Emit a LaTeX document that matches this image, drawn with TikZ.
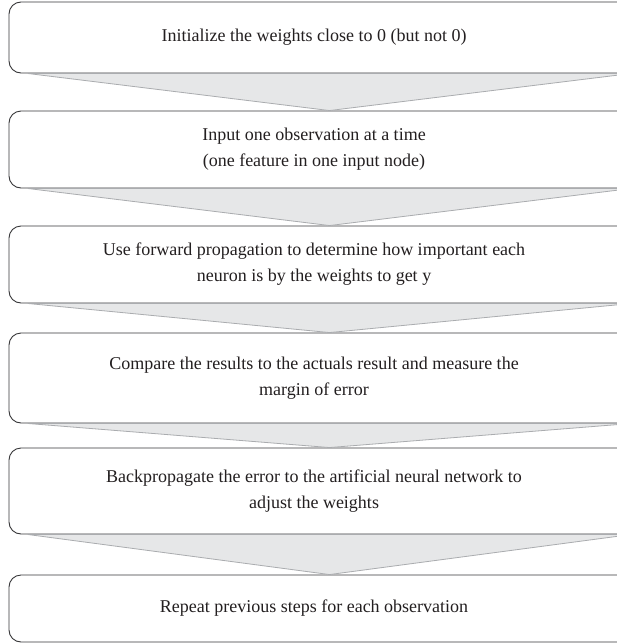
\documentclass[tikz,border=0pt]{standalone}
\usepackage{fontspec}
\setmainfont{Liberation Serif}
\usetikzlibrary{calc}
\definecolor{boxline}{RGB}{55,55,57}
\definecolor{arrfill}{RGB}{230,231,232}
\definecolor{arrline}{RGB}{170,172,175}
\definecolor{txt}{RGB}{35,31,32}
\tikzset{
  stepbox/.style={draw=boxline, line width=0.9pt, rounded corners=12pt, fill=white, minimum width=641pt, inner sep=0pt},
  steptext/.style={text=txt, align=center, font=\fontsize{18}{26}\selectfont, inner sep=0pt},
  flowarrow/.style={fill=arrfill, draw=arrline, line width=0.8pt, line join=miter}
}
\begin{document}
\begin{tikzpicture}[x=1pt,y=-1pt]
\useasboundingbox (0,0) rectangle (617,643);
\clip (0,0) rectangle (617,643);
\fill[white] (0,0) rectangle (617,643);
% boxes
\node[stepbox, minimum height=71pt] (b1) at (329.5,37.5) {};
\node[stepbox, minimum height=77pt] (b2) at (329.5,149.5) {};
\node[stepbox, minimum height=77pt] (b3) at (329.5,264.5) {};
\node[stepbox, minimum height=90pt] (b4) at (329.5,378) {};
\node[stepbox, minimum height=86pt] (b5) at (329.5,491) {};
\node[stepbox, minimum height=67pt] (b6) at (329.5,608.5) {};
% arrows
\foreach \a/\b in {b1/b2,b2/b3,b3/b4,b4/b5,b5/b6}{
  \draw[flowarrow] ($(\a.south west)+(19,0)$) -- ($(\a.south east)+(-19,0)$) -- (\b.north) -- cycle;
}
% texts
\node[steptext] (t1) at (314,37.5) {Initialize the weights close to 0 (but not 0)};
\node[steptext] (t2) at (314,149.5) {Input one observation at a time\\(one feature in one input node)};
\node[steptext] (t3) at (314,264.5) {Use forward propagation to determine how important each\\neuron is by the weights to get y};
\node[steptext] (t4) at (314,378) {Compare the results to the actuals result and measure the\\margin of error};
\node[steptext] (t5) at (314,491) {Backpropagate the error to the artificial neural network to\\adjust the weights};
\node[steptext] (t6) at (314,608.5) {Repeat previous steps for each observation};
\end{tikzpicture}
\end{document}
